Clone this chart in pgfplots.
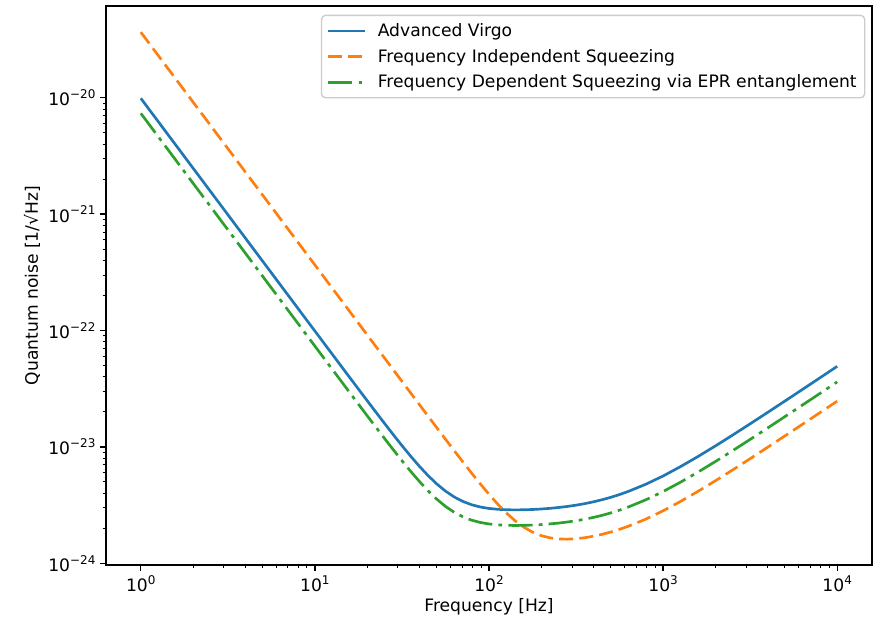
\documentclass[border=0pt]{standalone}
\usepackage{fontspec}
\setmainfont{DejaVu Sans}
\usepackage{pgfplots}
\pgfplotsset{compat=1.18}
\definecolor{tabblue}{HTML}{1F77B4}
\definecolor{taborange}{HTML}{FF7F0E}
\definecolor{tabgreen}{HTML}{2CA02C}
\newcommand\mpl{\fontsize{12.85}{15.4}\selectfont}
\newcommand\sups[1]{\raisebox{0.42em}{\fontsize{9}{10}\selectfont #1}}
\begin{document}
\begin{tikzpicture}
\begin{axis}[
  scale only axis, width=574.5pt, height=419.25pt,
  xmode=log, ymode=log,
  xmin=0.631, xmax=15849,
  ymin=9.67e-25, ymax=6.14e-20,
  axis line style={line width=1pt},
  tick pos=left, tick align=outside,
  major tick length=4.4pt, minor tick length=2.5pt,
  every major tick/.style={line width=1pt, black},
  every minor tick/.style={line width=0.75pt, black},
  xtick={1,10,100,1000,10000},
  xticklabels={10\sups{0},10\sups{1},10\sups{2},10\sups{3},10\sups{4}},
  ytick={1e-24,1e-23,1e-22,1e-21,1e-20},
  yticklabels={10\sups{−24},10\sups{−23},10\sups{−22},10\sups{−21},10\sups{−20}},
  tick label style={font=\mpl},
  xlabel={Frequency [Hz]},
  ylabel={Quantum noise [1/√Hz]},
  every axis x label/.style={at={([yshift=-31.5pt]axis description cs:0.5,0)}, anchor=center, font=\mpl},
  every axis y label/.style={at={([xshift=-55.5pt]axis description cs:0,0.5)}, anchor=center, rotate=90, font=\mpl},
  legend cell align=left,
  legend image code/.code={\draw[#1] (0pt,0pt) -- (27.7pt,0pt);},
  legend style={at={(1,1)}, anchor=north east, xshift=-5pt, yshift=-6.5pt,
    draw=black!20, line width=1pt, rounded corners=3pt, fill=white, fill opacity=0.8, text opacity=1,
    font=\mpl, inner xsep=4pt, inner ysep=4pt, row sep=4pt,
    nodes={inner sep=2pt},
    /tikz/every odd column/.append style={column sep=6.5pt}},
]
\addplot[tabblue, line width=2pt] coordinates {
(1,9.90e-21) (1.2589,6.246e-21) (1.5849,3.941e-21) (1.9953,2.487e-21) (2.5119,1.569e-21)
(3.1623,9.90e-22) (3.9811,6.246e-22) (5.0119,3.941e-22) (6.3096,2.487e-22) (7.9433,1.569e-22)
(10,9.904e-23) (12.589,6.252e-23) (15.849,3.951e-23) (17.783,3.142e-23) (19.953,2.502e-23)
(22.387,1.994e-23) (25.119,1.593e-23) (28.184,1.276e-23) (31.623,1.027e-23) (35.481,8.331e-24)
(39.811,6.828e-24) (44.668,5.677e-24) (50.119,4.812e-24) (56.234,4.176e-24) (63.096,3.720e-24)
(70.795,3.403e-24) (79.433,3.190e-24) (89.125,3.048e-24) (100,2.963e-24) (112.20,2.913e-24)
(125.89,2.886e-24) (141.25,2.879e-24) (158.49,2.885e-24) (177.83,2.902e-24) (199.53,2.930e-24)
(223.87,2.968e-24) (251.19,3.019e-24) (281.84,3.083e-24) (316.23,3.160e-24) (354.81,3.258e-24)
(398.11,3.377e-24) (446.68,3.521e-24) (501.19,3.693e-24) (562.34,3.901e-24) (630.96,4.147e-24)
(794.33,4.778e-24) (1000,5.629e-24) (1258.9,6.776e-24) (1584.9,8.268e-24) (1995.3,1.019e-23)
(2511.9,1.266e-23) (3162.3,1.580e-23) (3981.1,1.978e-23) (5011.9,2.481e-23) (6309.6,3.116e-23)
(7943.3,3.917e-23) (10000,4.928e-23)
};
\addlegendentry{Advanced Virgo}
\addplot[taborange, line width=2pt, dash pattern=on 10.5pt off 4.6pt] coordinates {
(1,3.660e-20) (1.2589,2.309e-20) (1.5849,1.457e-20) (1.9953,9.194e-21) (2.5119,5.801e-21)
(3.1623,3.660e-21) (3.9811,2.309e-21) (5.0119,1.457e-21) (6.3096,9.194e-22) (7.9433,5.801e-22)
(10,3.660e-22) (12.589,2.309e-22) (15.849,1.457e-22) (17.783,1.157e-22) (19.953,9.196e-23)
(22.387,7.304e-23) (25.119,5.803e-23) (28.184,4.610e-23) (31.623,3.663e-23) (35.481,2.911e-23)
(39.811,2.313e-23) (44.668,1.840e-23) (50.119,1.464e-23) (56.234,1.166e-23) (63.096,9.298e-24)
(70.795,7.433e-24) (79.433,5.966e-24) (89.125,4.815e-24) (100,3.920e-24) (112.20,3.230e-24)
(125.89,2.709e-24) (141.25,2.322e-24) (158.49,2.045e-24) (177.83,1.854e-24) (199.53,1.730e-24)
(223.87,1.657e-24) (251.19,1.620e-24) (281.84,1.613e-24) (316.23,1.627e-24) (354.81,1.661e-24)
(398.11,1.710e-24) (446.68,1.776e-24) (501.19,1.859e-24) (562.34,1.961e-24) (630.96,2.082e-24)
(794.33,2.394e-24) (1000,2.827e-24) (1258.9,3.401e-24) (1584.9,4.150e-24) (1995.3,5.116e-24)
(2511.9,6.353e-24) (3162.3,7.926e-24) (3981.1,9.924e-24) (5011.9,1.245e-23) (6309.6,1.564e-23)
(7943.3,1.966e-23) (10000,2.473e-23)
};
\addlegendentry{Frequency Independent Squeezing}
\addplot[tabgreen, line width=2pt, dash pattern=on 18.2pt off 4.6pt on 2.85pt off 4.6pt] coordinates {
(1,7.350e-21) (1.2589,4.638e-21) (1.5849,2.926e-21) (1.9953,1.846e-21) (2.5119,1.165e-21)
(3.1623,7.350e-22) (3.9811,4.638e-22) (5.0119,2.926e-22) (6.3096,1.846e-22) (7.9433,1.165e-22)
(10,7.353e-23) (12.589,4.643e-23) (15.849,2.933e-23) (17.783,2.333e-23) (19.953,1.857e-23)
(22.387,1.481e-23) (25.119,1.182e-23) (28.184,9.471e-24) (31.623,7.623e-24) (35.481,6.178e-24)
(39.811,5.060e-24) (44.668,4.204e-24) (50.119,3.560e-24) (56.234,3.086e-24) (63.096,2.746e-24)
(70.795,2.510e-24) (79.433,2.349e-24) (89.125,2.245e-24) (100,2.179e-24) (112.20,2.142e-24)
(125.89,2.121e-24) (141.25,2.116e-24) (158.49,2.120e-24) (177.83,2.133e-24) (199.53,2.153e-24)
(223.87,2.182e-24) (251.19,2.218e-24) (281.84,2.265e-24) (316.23,2.322e-24) (354.81,2.394e-24)
(398.11,2.481e-24) (446.68,2.586e-24) (501.19,2.714e-24) (562.34,2.866e-24) (630.96,3.047e-24)
(794.33,3.510e-24) (1000,4.140e-24) (1258.9,4.979e-24) (1584.9,6.074e-24) (1995.3,7.488e-24)
(2511.9,9.300e-24) (3162.3,1.161e-23) (3981.1,1.453e-23) (5011.9,1.823e-23) (6309.6,2.289e-23)
(7943.3,2.877e-23) (10000,3.620e-23)
};
\addlegendentry{Frequency Dependent Squeezing via EPR entanglement}
\end{axis}
\pgfresetboundingbox
\path[use as bounding box] ([xshift=-79.5pt,yshift=-43.5pt]current axis.south west) rectangle ([xshift=8.25pt,yshift=4.5pt]current axis.north east);
\end{tikzpicture}
\end{document}
